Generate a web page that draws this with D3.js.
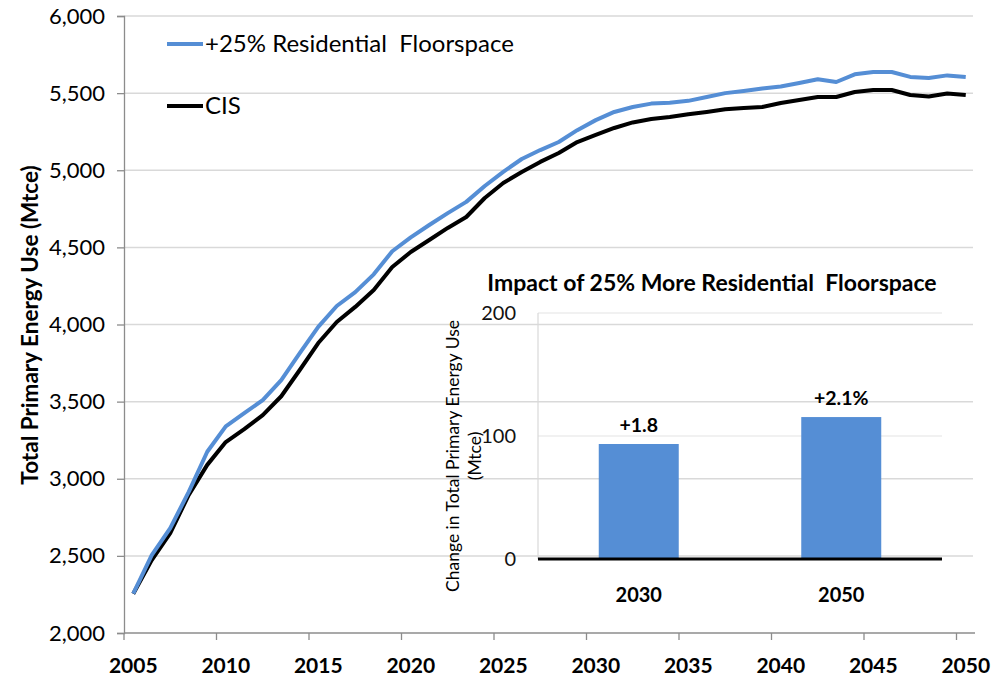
<!DOCTYPE html>
<html>
<head>
<meta charset="utf-8">
<script src="https://cdn.jsdelivr.net/npm/d3@7"></script>
<style>
  body { margin: 0; background: #fff; }
  svg { display: block; font-family: Lato, "Open Sans", sans-serif; }
</style>
</head>
<body>
<div id="chart"></div>
<script>
const width = 994;
const height = 685;

// main series, Mtce, one value per year 2005..2050
const years = d3.range(2005, 2051);
const floorspace = [
    2255, 2505, 2680, 2915, 3175, 3340, 3425, 3510, 3640, 3815,
    3985, 4120, 4210, 4325, 4475, 4565, 4645, 4722, 4795, 4898,
    4990, 5073, 5131, 5183, 5260, 5325, 5378, 5410, 5432, 5438,
    5450, 5475, 5500, 5514, 5530, 5543, 5566, 5590, 5572, 5622,
    5637, 5637, 5605, 5598, 5615, 5605
];
const cis = [
    2255, 2473, 2648, 2895, 3090, 3238, 3322, 3413, 3535, 3705,
    3880, 4016, 4114, 4224, 4373, 4470, 4548, 4626, 4697, 4820,
    4917, 4989, 5054, 5112, 5183, 5229, 5274, 5310, 5332, 5345,
    5363, 5378, 5395, 5404, 5410, 5436, 5456, 5475, 5475, 5507,
    5520, 5520, 5488, 5478, 5498, 5488
];
const yTicks = [2000, 2500, 3000, 3500, 4000, 4500, 5000, 5500, 6000];
const xTickYears = [2005, 2010, 2015, 2020, 2025, 2030, 2035, 2040, 2045, 2050];
const seriesNames = ["+25% Residential  Floorspace", "CIS"];

// inset bars
const insetCats = ["2030", "2050"];
const insetValues = [93.5, 115.4];
const insetLabels = ["+1.8", "+2.1%"];
const insetTicks = [0, 100, 200];

const blue = "#558ed5";
const grid = "#d9d9d9";

const svg = d3.select("#chart")
    .append("svg")
    .attr("width", width)
    .attr("height", height);

// ---------- main chart ----------
const plot = { left: 124, right: 975, top: 16, bottom: 633 };

const x = d3.scaleBand()
    .domain(years)
    .range([plot.left, plot.right]);

const y = d3.scaleLinear()
    .domain([2000, 6000])
    .range([plot.bottom, plot.top]);

svg.append("g")
    .selectAll("line")
    .data(yTicks.slice(1))
    .enter()
    .append("line")
    .attr("x1", plot.left)
    .attr("x2", plot.right - 2)
    .attr("y1", d => y(d))
    .attr("y2", d => y(d))
    .attr("stroke", grid)
    .attr("stroke-width", 1.5);

// y axis
const yAxis = svg.append("g")
    .attr("transform", `translate(${plot.left},0)`)
    .call(d3.axisLeft(y).tickValues(yTicks).tickFormat(d3.format(",")).tickSize(7).tickPadding(12));
yAxis.select(".domain").attr("stroke", "#8c8c8c").attr("stroke-width", 1.3);
yAxis.selectAll(".tick line").attr("stroke", "#8c8c8c").attr("stroke-width", 1.3);
yAxis.selectAll(".tick text")
    .attr("font-size", 22)
    .attr("fill", "#000")
    .style("font-family", "Lato, sans-serif");

// x axis: ticks at category boundaries, labels at category centre
const xAxisG = svg.append("g");
xAxisG.append("line")
    .attr("x1", plot.left)
    .attr("x2", plot.right)
    .attr("y1", plot.bottom)
    .attr("y2", plot.bottom)
    .attr("stroke", "#8c8c8c")
    .attr("stroke-width", 1.3);
xAxisG.selectAll(".xtick")
    .data(xTickYears)
    .enter()
    .append("line")
    .attr("class", "xtick")
    .attr("x1", d => x(d))
    .attr("x2", d => x(d))
    .attr("y1", plot.bottom)
    .attr("y2", plot.bottom + 7)
    .attr("stroke", "#8c8c8c")
    .attr("stroke-width", 1.3);
xAxisG.selectAll(".xlabel")
    .data(xTickYears)
    .enter()
    .append("text")
    .attr("class", "xlabel")
    .attr("x", d => x(d) + x.bandwidth() / 2)
    .attr("y", 673)
    .attr("text-anchor", "middle")
    .attr("font-size", 21)
    .attr("font-weight", "bold")
    .text(d => d);

svg.append("text")
    .attr("transform", "translate(38,325) rotate(-90)")
    .attr("text-anchor", "middle")
    .attr("font-size", 22.5)
    .attr("font-weight", "bold")
    .text("Total Primary Energy Use (Mtce)");

const line = d3.line()
    .x((d, i) => x(years[i]) + x.bandwidth() / 2)
    .y(d => y(d));

svg.append("path")
    .datum(cis)
    .attr("fill", "none")
    .attr("stroke", "#000")
    .attr("stroke-width", 4)
    .attr("stroke-linejoin", "round")
    .attr("d", line);

svg.append("path")
    .datum(floorspace)
    .attr("fill", "none")
    .attr("stroke", blue)
    .attr("stroke-width", 4)
    .attr("stroke-linejoin", "round")
    .attr("d", line);

// legend
const legend = svg.append("g")
    .selectAll("g")
    .data(seriesNames)
    .enter()
    .append("g")
    .attr("transform", (d, i) => `translate(167,${44 + i * 62})`);
legend.append("line")
    .attr("x1", 0)
    .attr("x2", 36)
    .attr("stroke", (d, i) => i === 0 ? blue : "#000")
    .attr("stroke-width", 4);
legend.append("text")
    .attr("x", 38)
    .attr("y", 8)
    .attr("font-size", 24)
    .style("white-space", "pre")
    .text(d => d);

// ---------- inset bar chart ----------
const inset = { left: 538, right: 942, top: 313, bottom: 559 };

const xi = d3.scaleBand()
    .domain(insetCats)
    .range([inset.left, inset.right])
    .paddingInner(0.605)
    .paddingOuter(0.3);

const yi = d3.scaleLinear()
    .domain([0, 200])
    .range([inset.bottom, inset.top]);

svg.append("g")
    .selectAll("line")
    .data(insetTicks.slice(1))
    .enter()
    .append("line")
    .attr("x1", inset.left)
    .attr("x2", inset.right)
    .attr("y1", d => yi(d))
    .attr("y2", d => yi(d))
    .attr("stroke", "#e3e3e3")
    .attr("stroke-width", 1.2);

svg.append("line")
    .attr("x1", inset.left)
    .attr("x2", inset.left)
    .attr("y1", inset.top)
    .attr("y2", inset.bottom)
    .attr("stroke", "#d9d9d9")
    .attr("stroke-width", 1.2);

svg.append("g")
    .selectAll("text")
    .data(insetTicks)
    .enter()
    .append("text")
    .attr("x", 516)
    .attr("y", d => yi(d) + 7)
    .attr("text-anchor", "end")
    .attr("font-size", 20)
    .attr("fill", "#111")
    .text(d => d);

svg.append("g")
    .selectAll("rect")
    .data(insetValues)
    .enter()
    .append("rect")
    .attr("x", (d, i) => xi(insetCats[i]))
    .attr("y", d => yi(d))
    .attr("width", xi.bandwidth())
    .attr("height", d => yi(0) - yi(d))
    .attr("fill", blue);

svg.append("line")
    .attr("x1", inset.left)
    .attr("x2", inset.right)
    .attr("y1", yi(0))
    .attr("y2", yi(0))
    .attr("stroke", "#000")
    .attr("stroke-width", 3);

svg.append("g")
    .selectAll("text")
    .data(insetValues)
    .enter()
    .append("text")
    .attr("x", (d, i) => xi(insetCats[i]) + xi.bandwidth() / 2)
    .attr("y", d => yi(d) - 12)
    .attr("text-anchor", "middle")
    .attr("font-size", 19.5)
    .attr("font-weight", "bold")
    .text((d, i) => insetLabels[i]);

svg.append("g")
    .selectAll("text")
    .data(insetCats)
    .enter()
    .append("text")
    .attr("x", d => xi(d) + xi.bandwidth() / 2)
    .attr("y", 602)
    .attr("text-anchor", "middle")
    .attr("font-size", 20)
    .attr("font-weight", "bold")
    .text(d => d);

svg.append("text")
    .attr("x", 712)
    .attr("y", 291)
    .attr("text-anchor", "middle")
    .attr("font-size", 23)
    .attr("font-weight", "bold")
    .style("white-space", "pre")
    .text("Impact of 25% More Residential  Floorspace");

const insetTitle = svg.append("text")
    .attr("transform", "translate(459,456) rotate(-90)")
    .attr("text-anchor", "middle")
    .attr("font-size", 17.5);
insetTitle.append("tspan")
    .attr("x", 0)
    .attr("dy", 0)
    .text("Change in Total Primary Energy Use");
insetTitle.append("tspan")
    .attr("x", 0)
    .attr("dy", 22)
    .text("(Mtce)");
</script>
</body>
</html>
